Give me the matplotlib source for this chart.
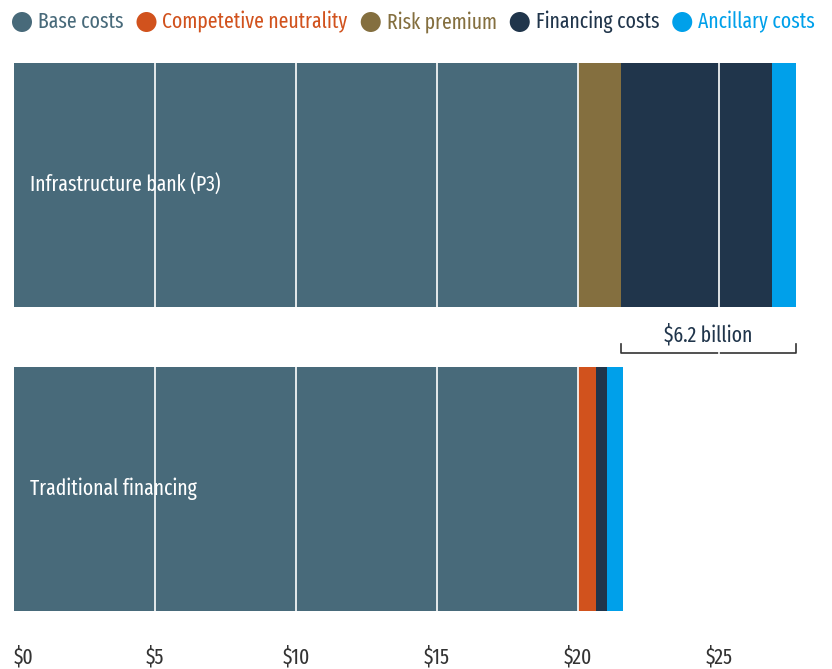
import matplotlib
matplotlib.use("Agg")
import matplotlib.pyplot as plt
from matplotlib import font_manager
from matplotlib.font_manager import FontProperties
from matplotlib.patches import Circle

# data (billions of dollars)
categories = ["Infrastructure bank (P3)", "Traditional financing"]
components = ["Base costs", "Competetive neutrality", "Risk premium",
              "Financing costs", "Ancillary costs"]
colors = ["#486a7a", "#d1521d", "#846f3f", "#20354b", "#00a0ea"]
p3_values = [20.0, 0.0, 1.51, 5.38, 0.83]
traditional_values = [20.0, 0.65, 0.0, 0.37, 0.57]
tick_values = [0, 5, 10, 15, 20, 25]
tick_labels = ["$0", "$5", "$10", "$15", "$20", "$25"]
bracket_label = "$6.2 billion"


def pick_condensed_font():
    # look for any narrow/condensed sans face that happens to be installed
    best = None
    for f in font_manager.fontManager.ttflist:
        name = (f.name + " " + f.fname).lower()
        narrow = ("condensed" in name or "narrow" in name or "cond" in name
                  or str(f.stretch) in ("condensed", "semi-condensed",
                                        "extra-condensed", "ultra-condensed"))
        if not narrow or f.style != "normal" or "italic" in name or "mono" in name:
            continue
        if "serif" in name.replace("sans", ""):
            continue
        w = f.weight if isinstance(f.weight, int) else 400
        score = abs(w - 420)
        if "extra" in name or "ultra" in name:
            score -= 40
        if best is None or score < best[0]:
            best = (score, f.fname)
    if best:
        return FontProperties(fname=best[1])
    return FontProperties(family="DejaVu Sans")


fp = pick_condensed_font()

W, H = 832, 669
fig = plt.figure(figsize=(W / 100, H / 100), dpi=100)
renderer = fig.canvas.get_renderer()

# size text so the legend row spans the width like the reference
probe = fig.text(0, 0, "".join(components), fontproperties=fp, fontsize=20)
probe_w = probe.get_window_extent(renderer).width
probe.remove()
fs = min(21, 20 * 621 / probe_w)
fp.set_size(fs)

px_per_unit = 28.2
ax_left, ax_right, ax_top, ax_bottom = 14, 818, 63, 611
ax = fig.add_axes([ax_left / W, 1 - ax_bottom / H,
                   (ax_right - ax_left) / W, (ax_bottom - ax_top) / H])

bar_h = 244 / 304
ys = [0, 1]
for y, vals in zip(ys, [p3_values, traditional_values]):
    left = 0.0
    for v, c in zip(vals, colors):
        if v > 0:
            ax.barh(y, v, left=left, height=bar_h, color=c, linewidth=0, zorder=1)
        left += v

ax.set_xlim(0, (ax_right - ax_left) / px_per_unit)
ax.set_ylim(1 + bar_h / 2, -bar_h / 2)
ax.axis("off")

# white gridlines over the bars
for t in tick_values[1:]:
    ax.axvline(t, color="white", linewidth=1.2, zorder=3)

# category labels inside bars
for y, name in zip(ys, categories):
    ax.text(0.57, y, name, color="white", fontproperties=fp, va="center",
            ha="left", zorder=2)

# tick labels
for t, lab in zip(tick_values, tick_labels):
    ax.text(t, 1 + bar_h / 2 + 46 / 304, lab, color="#333333", fontproperties=fp,
            ha="left" if t == 0 else "center", va="center", clip_on=False)

# bracket spanning financing + ancillary of the P3 bar
b_start = sum(p3_values[:3])
b_end = sum(p3_values)
by = bar_h / 2 + 45.7 / 304
ax.plot([b_start, b_start, b_end, b_end], [by - 9 / 304, by, by, by - 9 / 304],
        color="#333333", linewidth=1.2, clip_on=False)
ax.text((b_start + b_end) / 2, by - 18 / 304, bracket_label, color="#20354b",
        fontproperties=fp, ha="center", va="center")

# legend row at top
x = 12
yc = 22
for name, c in zip(components, colors):
    fig.add_artist(Circle(((x + 10) / 100, (H - yc) / 100), radius=0.1, color=c,
                          transform=fig.dpi_scale_trans, linewidth=0))
    t = fig.text((x + 26) / W, 1 - yc / H, name, color=c, fontproperties=fp,
                 ha="left", va="center")
    wpx = t.get_window_extent(renderer).width
    x = x + 26 + wpx + 13

fig.savefig("out.png", dpi=100)
